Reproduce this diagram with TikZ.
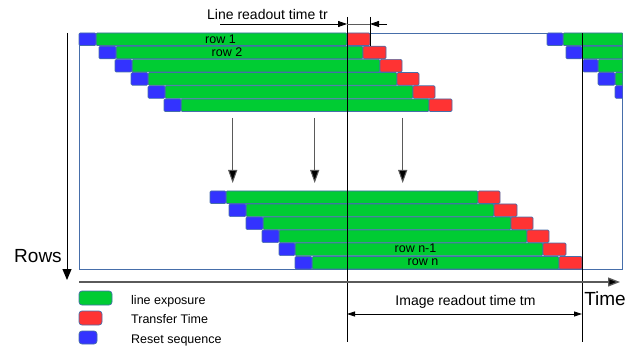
\documentclass[tikz,border=0pt]{standalone}
\usepackage{fontspec}
\setmainfont{Liberation Sans}
\usetikzlibrary{arrows.meta}
\definecolor{rgreen}{RGB}{0,204,51}
\definecolor{rred}{RGB}{255,51,51}
\definecolor{rblue}{RGB}{51,51,255}
\definecolor{bordercol}{RGB}{70,110,170}
\definecolor{axisgray}{RGB}{90,90,90}
\newcommand\rowbar[5]{%
  \filldraw[seg,fill=rgreen] (#3,#1) rectangle (#4,#1+12.6);
  \filldraw[seg,fill=rblue] (#2,#1) rectangle (#3,#1+12.6);
  \filldraw[seg,fill=rred] (#4,#1) rectangle (#5,#1+12.6);}
\newcommand\rowbarnr[4]{%
  \filldraw[seg,fill=rgreen] (#3,#1) rectangle (#4,#1+12.6);
  \filldraw[seg,fill=rblue] (#2,#1) rectangle (#3,#1+12.6);}
\tikzset{
  seg/.style={draw=bordercol, line width=0.7pt, rounded corners=1.2pt},
  legbox/.style={draw=bordercol, line width=0.7pt, rounded corners=3pt},
  lbl/.style={inner sep=0pt, anchor=base, font=\fontsize{12.5}{14}\selectfont},
  biglbl/.style={inner sep=0pt, anchor=base, font=\fontsize{19}{22}\selectfont},
  midlbl/.style={inner sep=0pt, anchor=base, font=\fontsize{14}{16}\selectfont},
  marker/.style={black, line width=0.9pt},
  downarrow/.style={draw=axisgray, line width=1pt, -{Triangle[length=13pt,width=9pt,fill=black]}},
}
\begin{document}
\begin{tikzpicture}[x=1pt,y=-1pt]
\useasboundingbox (0,0) rectangle (628,347);
% frame
\draw[bordercol, line width=0.8pt] (79,33) rectangle (622,269);
% top group
\rowbar{33}{79}{96}{347}{370}
\rowbar{46.2}{99}{116}{363}{386}
\rowbar{59.4}{115}{132}{380}{402}
\rowbar{72.6}{131}{148}{397}{419}
\rowbar{85.8}{148}{165}{413}{435}
\rowbar{99}{164}{181}{429}{452}
% next frame rows (clipped)
\begin{scope}
\clip (79,30) rectangle (622.4,272);
\rowbarnr{33}{547}{563}{640}
\rowbarnr{46.2}{566}{582}{640}
\rowbarnr{59.4}{583}{598}{640}
\rowbarnr{72.6}{598}{615}{640}
\rowbarnr{85.8}{615}{632}{640}
\end{scope}
% bottom group
\rowbar{191}{210}{226}{478}{500}
\rowbar{204}{229}{246}{494}{517}
\rowbar{217}{246}{263}{511}{533}
\rowbar{230}{262}{279}{527}{549}
\rowbar{243}{279}{295}{543}{566}
\rowbar{256.4}{295}{312}{559}{582}
% row labels
\node[lbl] (r1) at (220.5,43.3) {row 1};
\node[lbl] (r2) at (227,56.7) {row 2};
\node[lbl] (rn1) at (415.5,252.7) {row n-1};
\node[lbl] (rn) at (423,265.5) {row n};
% down arrows
\coordinate (a1s) at (232.7,118); \coordinate (a1e) at (232.7,183);
\coordinate (a2s) at (314.7,118); \coordinate (a2e) at (314.7,183);
\coordinate (a3s) at (402.7,118); \coordinate (a3e) at (402.7,183);
\draw[downarrow] (a1s) -- (a1e);
\draw[downarrow] (a2s) -- (a2e);
\draw[downarrow] (a3s) -- (a3e);
% vertical marker lines
\coordinate (v1t) at (347,17); \coordinate (v1b) at (347,342);
\coordinate (v2t) at (582,33); \coordinate (v2b) at (582,342);
\coordinate (v3t) at (370,17); \coordinate (v3b) at (370,46);
\draw[marker] (v1t) -- (v1b);
\draw[marker] (v2t) -- (v2b);
\draw[marker] (v3t) -- (v3b);
% line readout dimension
\coordinate (d1) at (220,24); \coordinate (d2) at (347,24);
\coordinate (d3) at (370,24); \coordinate (d4) at (387,24);
\draw[black, line width=0.8pt, -{Triangle[length=9pt,width=6pt]}] (d1) -- (d2);
\draw[axisgray, line width=0.8pt] (d2) -- (d3);
\draw[black, line width=0.8pt, -{Triangle[length=9pt,width=6pt]}] (d4) -- (d3);
\node[midlbl] (lrt) at (267.5,19.3) {Line readout time tr};
% axes
\coordinate (ry0) at (67,33); \coordinate (ry1) at (67,280);
\draw[black, line width=1pt, -{Triangle[length=11pt,width=9pt]}] (ry0) -- (ry1);
\coordinate (tx0) at (79,282); \coordinate (tx1) at (620,282);
\draw[axisgray, line width=1.3pt, -{Triangle[length=12pt,width=9pt,fill=black]}] (tx0) -- (tx1);
\node[biglbl] (rows) at (38,262) {Rows};
\node[biglbl] (time) at (605,305) {Time};
% image readout dimension
\coordinate (m1) at (347,314); \coordinate (m2) at (582,314);
\draw[black, line width=0.8pt, {Triangle[length=8pt,width=5pt]}-{Triangle[length=8pt,width=5pt]}] (m1) -- (m2);
\node[midlbl] (irt) at (465.5,305.7) {Image readout time tm};
% legend
\filldraw[legbox, fill=rgreen] (79,291) rectangle (112,305);
\filldraw[legbox, fill=rred] (79,311) rectangle (102,325);
\filldraw[legbox, fill=rblue] (79,331) rectangle (97,344);
\node[lbl, anchor=base west] (lg) at (131,304) {line exposure};
\node[lbl, anchor=base west] (lr) at (131,323.5) {Transfer Time};
\node[lbl, anchor=base west] (lb) at (131,343.3) {Reset sequence};
\end{tikzpicture}
\end{document}
